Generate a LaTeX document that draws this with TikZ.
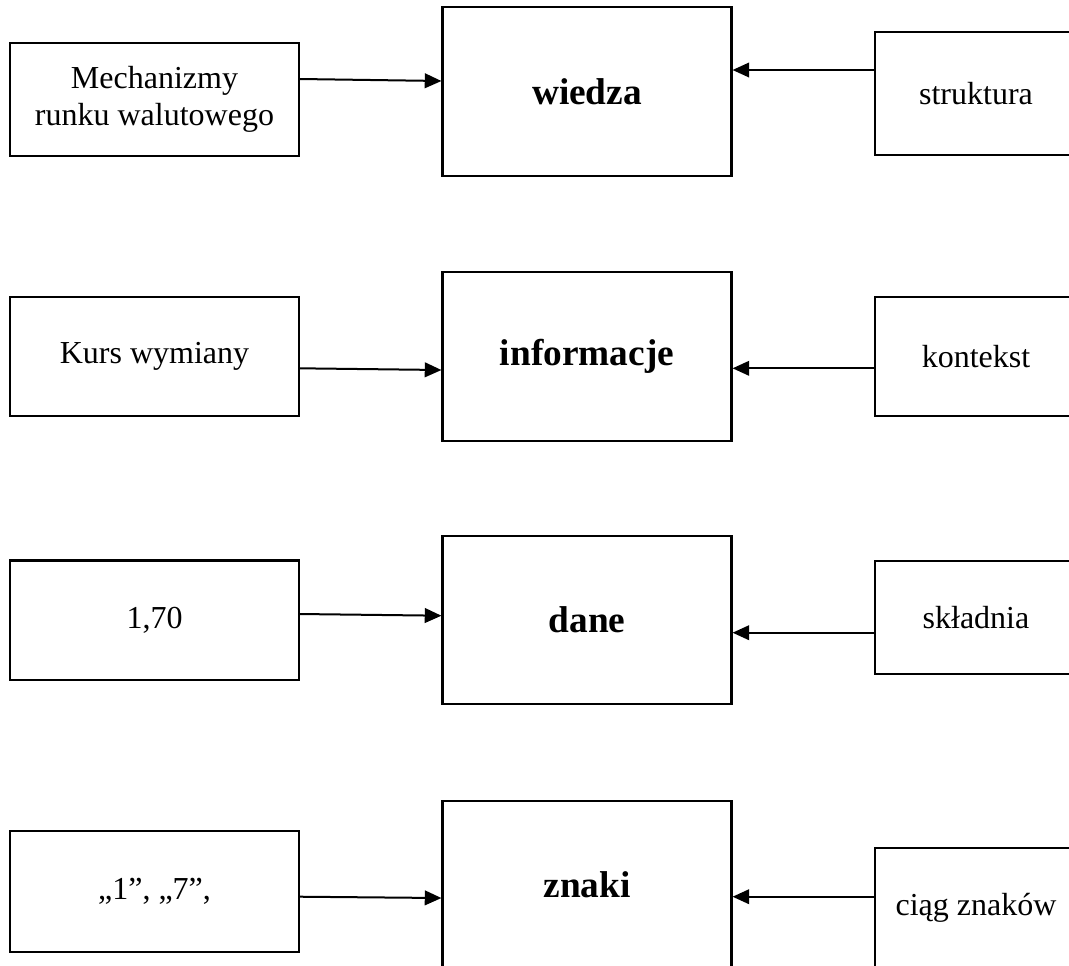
\documentclass[tikz,border=0pt]{standalone}
\usepackage{fontspec}
\setmainfont{Liberation Serif}
\usetikzlibrary{arrows.meta}

\tikzset{
  box/.style={draw, line width=1.6pt, inner sep=0pt, align=center, font=\fontsize{24}{27.75}\selectfont},
  mainbox/.style={box, minimum width=216.75pt, minimum height=126.4pt, font=\fontsize{28}{32}\selectfont\bfseries},
  leftbox/.style={box, minimum width=216.75pt},
  rightbox/.style={box, minimum width=151.5pt},
  link/.style={line width=1.5pt, -{Triangle[length=12.5pt,width=11pt]}}
}

\begin{document}
\begin{tikzpicture}[x=0.75pt,y=0.75pt,yscale=-1,xscale=1]
\useasboundingbox (0,0) rectangle (1069,965);
\clip (0,0) rectangle (1069,965);

%Shape: Rectangle
\node [mainbox] (wiedza) at (587,91.5) {wiedza};
%Shape: Rectangle
\node [mainbox] (informacje) at (587,356.3) {informacje};
%Shape: Rectangle
\node [mainbox] (dane) at (587,620) {dane};
%Shape: Rectangle
\node [mainbox] (znaki) at (587,885) {znaki};

%Shape: Rectangle
\node [leftbox, minimum height=84.75pt] (mechanizmy) at (154.5,99.2) {Mechanizmy\\runku walutowego};
%Shape: Rectangle
\node [leftbox, minimum height=89.5pt] (kurs) at (154.5,356.3) {Kurs wymiany};
%Shape: Rectangle
\node [leftbox, minimum height=89.6pt] (liczba) at (154.5,620.2) {1,70};
%Shape: Rectangle
\node [leftbox, minimum height=90.5pt] (cyfry) at (154.5,891.3) {„1”, „7”,};

%Shape: Rectangle
\node [rightbox, minimum height=92pt] (struktura) at (976,93.7) {struktura};
%Shape: Rectangle
\node [rightbox, minimum height=89.5pt] (kontekst) at (976,356.3) {kontekst};
%Shape: Rectangle
\node [rightbox, minimum height=85pt] (skladnia) at (976,617.3) {składnia};
%Shape: Rectangle
\node [rightbox, minimum height=90pt] (ciag) at (976,908) {ciąg znaków};

%Straight Lines
\draw [link] (mechanizmy.east |- 0,79) -- (wiedza.west |- 0,81);
\draw [link] (struktura.west |- 0,70) -- (wiedza.east |- 0,70);
%Straight Lines
\draw [link] (kurs.east |- 0,368.3) -- (informacje.west |- 0,370);
\draw [link] (kontekst.west |- 0,368.3) -- (informacje.east |- 0,368.3);
%Straight Lines
\draw [link] (liczba.east |- 0,614) -- (dane.west |- 0,615.7);
\draw [link] (skladnia.west |- 0,632.7) -- (dane.east |- 0,632.7);
%Straight Lines
\draw [link] (cyfry.east |- 0,896.7) -- (znaki.west |- 0,898);
\draw [link] (ciag.west |- 0,896.7) -- (znaki.east |- 0,896.7);

\end{tikzpicture}
\end{document}
